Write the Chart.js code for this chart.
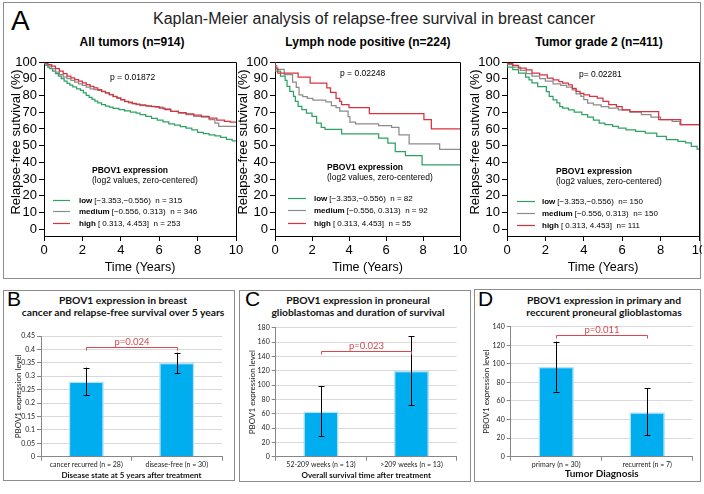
<!DOCTYPE html>
<html><head><meta charset="utf-8">
<script src="https://cdn.jsdelivr.net/npm/chart.js@4.4.0/dist/chart.umd.min.js"></script>
<style>
body{margin:0;width:704px;height:494px;background:#fff;position:relative;overflow:hidden;font-family:"Liberation Sans",Arial,sans-serif;color:#000;}
.box{position:absolute;border:1px solid #8c8c8c;box-sizing:border-box;}
.t{position:absolute;white-space:nowrap;transform:translate(-50%,-50%);line-height:1;}
.lt{position:absolute;line-height:1;}
canvas{position:absolute;}
.bt{font-family:Lato,"Open Sans",sans-serif;font-weight:bold;font-size:10.3px;color:#111;}
</style></head><body>
<div class="box" style="left:3px;top:2px;width:698px;height:277px;"></div>
<div class="box" style="left:3px;top:290px;width:232px;height:191px;"></div>
<div class="box" style="left:239px;top:290px;width:232px;height:192px;"></div>
<div class="box" style="left:474px;top:289px;width:227px;height:193px;"></div>

<div class="lt" style="left:11px;top:7px;font-size:28px;">A</div>
<div class="t" style="left:374px;top:19px;font-size:16px;color:#222;">Kaplan-Meier analysis of relapse-free survival in breast cancer</div>
<div class="t" style="left:132px;top:42px;font-size:12px;font-weight:bold;">All tumors (n=914)</div>
<div class="t" style="left:368px;top:42px;font-size:12px;font-weight:bold;">Lymph node positive (n=224)</div>
<div class="t" style="left:599px;top:42px;font-size:12px;font-weight:bold;">Tumor grade 2 (n=411)</div>

<div class="lt" style="left:7px;top:288px;font-size:21px;">B</div>
<div class="lt" style="left:245px;top:288px;font-size:21px;">C</div>
<div class="lt" style="left:478px;top:288px;font-size:21px;">D</div>
<div class="t bt" style="left:123px;top:300px;">PBOV1 expression in breast</div>
<div class="t bt" style="left:123px;top:312px;">cancer and relapse-free survival over 5 years</div>
<div class="t bt" style="left:358px;top:300px;">PBOV1 expression in proneural</div>
<div class="t bt" style="left:358px;top:312px;">glioblastomas and duration of survival</div>
<div class="t bt" style="left:604px;top:300px;">PBOV1 expression in primary and</div>
<div class="t bt" style="left:604px;top:312px;">reccurent proneural glioblastomas</div>

<canvas id="km1" width="240" height="227" style="left:4px;top:50px;"></canvas>
<canvas id="km2" width="240" height="227" style="left:234px;top:50px;"></canvas>
<canvas id="km3" width="236" height="227" style="left:466px;top:50px;"></canvas>
<canvas id="b1" width="229" height="158" style="left:4px;top:322px;"></canvas>
<canvas id="b2" width="230" height="162" style="left:240px;top:318px;"></canvas>
<canvas id="b3" width="224" height="162" style="left:475px;top:318px;"></canvas>

<script>
// ---------------- DATA ----------------
const kmXTicks = [0, 2, 4, 6, 8, 10];
const kmYTicks = [0, 10, 20, 30, 40, 50, 60, 70, 80, 90, 100];
const groupNames = ['low', 'medium', 'high'];
const groupRanges = ['[\u22123.353,\u22120.556)', '[\u22120.556, 0.313)', '[ 0.313, 4.453]'];

// Panel 1: All tumors (n=914)  [time (years), survival %]
const allLow = [[0,100],[0.1,99],[0.2,98],[0.3,97],[0.45,96],[0.6,94.5],[0.75,93],[0.9,91.5],[1.05,90],[1.2,88.5],[1.35,87.2],[1.5,86.2],[1.7,85.2],[1.9,84],[2.05,83],[2.2,81.5],[2.35,80],[2.5,78.8],[2.65,77.6],[2.8,76.6],[3.0,75.5],[3.2,74.5],[3.4,73.6],[3.6,73],[3.9,72.3],[4.2,71.5],[4.5,70.8],[4.8,70],[5.0,69.4],[5.3,68.5],[5.6,67.5],[5.9,66.3],[6.2,65.3],[6.5,64.2],[6.8,63],[7.1,62.2],[7.4,61.4],[7.7,60.5],[8.0,59.5],[8.3,58],[8.6,57.2],[8.9,56.4],[9.2,55.8],[9.5,55],[9.8,53.8],[10,52.8]];
const allMed = [[0,100],[0.2,99],[0.4,97.5],[0.6,96],[0.8,94],[1.0,92.5],[1.2,91],[1.4,90],[1.6,89],[1.8,88],[2.0,87],[2.2,86],[2.4,85],[2.6,84],[2.8,83.5],[3.0,83],[3.2,82.3],[3.4,81.5],[3.6,80.5],[3.8,79.3],[4.0,78.3],[4.2,77.3],[4.4,76.3],[4.6,75.5],[4.8,75],[5.0,74.5],[5.4,74],[5.8,73.5],[6.2,73],[6.6,72],[7.0,70.5],[7.4,69.5],[7.8,68.5],[8.2,67.5],[8.6,67],[8.9,65.5],[9.1,63.5],[9.3,61.5],[10,61.5]];
const allHigh = [[0,100],[0.2,99.5],[0.4,98.5],[0.6,97.5],[0.8,96],[1.0,94.5],[1.2,93],[1.4,91.5],[1.6,90.5],[1.8,89.5],[2.0,88.5],[2.2,87.5],[2.4,86.5],[2.6,85.5],[2.8,84.5],[3.0,83.5],[3.2,82.5],[3.4,81.5],[3.6,80.5],[3.8,79.5],[4.0,78.5],[4.2,77.5],[4.4,76.5],[4.6,76],[4.8,75.3],[5.0,74.8],[5.3,74.3],[5.6,73.8],[6.0,73.3],[6.3,72.5],[6.6,71.5],[7.0,70.5],[7.4,69.8],[7.8,69],[8.2,68.3],[8.6,67.5],[9.0,66.5],[9.4,65.3],[9.7,64.5],[10,64]];
const allN = [315, 346, 253];

// Panel 2: Lymph node positive (n=224)
const lnLow = [[0,97.5],[0.3,94.5],[0.55,91.5],[0.65,89],[0.8,85.5],[1.0,82.5],[1.1,79.5],[1.25,76.5],[1.45,73.5],[1.7,71.5],[2.0,69.5],[2.25,67.5],[2.5,63.5],[2.7,61],[3.6,59.8],[5.6,57],[6.1,54.5],[6.5,51.5],[7.05,46.5],[7.95,44],[9.85,38.5],[10,38.5]];
const lnMed = [[0,100],[0.1,97.8],[0.5,95.6],[0.95,92.4],[1.15,88],[1.3,84.8],[1.5,80.4],[1.75,79.3],[2.05,78.3],[2.75,77.2],[3.05,76.1],[3.3,74],[3.5,72.8],[3.95,70.7],[4.05,67.4],[4.35,64.1],[5.6,63],[6.3,62],[6.7,60.9],[7.25,56.5],[8.9,51.1],[9.1,47.8],[10,47.8]];
const lnHigh = [[0,100],[0.15,96.4],[1.25,93.3],[1.9,90.9],[2.8,87.3],[3.0,84.5],[3.3,81.8],[3.5,78.2],[3.6,76.4],[4.0,74.5],[5.1,72.7],[8.05,69.1],[8.45,65.5],[9.05,60],[10,60]];
const lnN = [82, 92, 55];

// Panel 3: Tumor grade 2 (n=411)
const g2Low = [[0,98],[0.3,97],[0.6,95.5],[0.97,93.3],[1.15,91],[1.3,89.3],[1.6,87.5],[2.05,85.3],[2.2,82.3],[2.4,79.5],[2.6,77.4],[2.75,75.5],[2.9,73.4],[3.2,72.4],[3.5,71.4],[3.9,70],[4.2,68.5],[4.5,67],[4.8,65.2],[5.1,63.5],[5.5,62.5],[5.8,61.5],[6.2,60.5],[6.7,59.5],[7.2,58.5],[7.8,57.5],[8.3,55.5],[8.9,53.6],[9.3,52.5],[9.6,51.6],[9.9,49.5],[10,48]];
const g2Med = [[0,100],[0.3,98.5],[0.7,97],[1.0,95],[1.3,93],[1.7,91.5],[2.0,90],[2.4,88.5],[2.8,87],[3.1,86],[3.4,85],[3.6,83.3],[3.85,81],[4.0,79.4],[4.2,77.5],[4.5,75.4],[4.9,74.3],[5.3,73.4],[5.8,72.5],[6.4,71.4],[7.0,70],[7.5,68.5],[8.0,67],[8.6,65.5],[9.0,64.5],[9.3,62.5],[10,62.5]];
const g2High = [[0,100],[0.3,99],[0.6,98],[1.0,96.3],[1.3,95.3],[1.7,93.3],[2.1,92.3],[2.4,90.3],[2.7,89.3],[2.9,88.3],[3.2,87.3],[3.4,86.3],[3.6,84.3],[3.8,82.5],[4.0,81.3],[4.3,80.3],[4.7,79.4],[5.0,78.4],[5.3,76.4],[5.7,74.5],[6.0,73.4],[6.4,71.4],[7.9,70.4],[9.05,65.5],[9.65,62.5],[10,62.5]];
const g2N = [150, 150, 111];

// Bar panels
const bCats = ['cancer recurred (n = 28)', 'disease-free (n = 30)'];
const bMeans = [0.28, 0.35];
const bErrLow = [0.23, 0.312];
const bErrHigh = [0.332, 0.388];
const bYTicks = [0, 0.05, 0.1, 0.15, 0.2, 0.25, 0.3, 0.35, 0.4, 0.45];

const cCats = ['52-209 weeks (n = 13)', '>209 weeks (n = 13)'];
const cMeans = [63, 120];
const cErrLow = [29, 72];
const cErrHigh = [98, 168];
const cYTicks = [0, 20, 40, 60, 80, 100, 120, 140, 160, 180];

const dCats = ['primary (n = 30)', 'recurrent (n = 7)'];
const dMeans = [97, 48];
const dErrLow = [70, 23];
const dErrHigh = [124, 74];
const dYTicks = [0, 20, 40, 60, 80, 100, 120, 140];

// ---------------- STYLE / PLUGINS ----------------
const FONT = '"Liberation Sans", Arial, sans-serif';
const BFONT = 'Lato, "Open Sans", sans-serif';
Chart.defaults.font.family = FONT;
Chart.defaults.color = '#000';
Chart.defaults.animation = false;
const COLORS = { low: '#2ea265', medium: '#8c8c8c', high: '#d9323e' };

const framePlugin = {
  id: 'frame',
  afterDatasetsDraw(chart, args, o) {
    if (!o || !o.on) return;
    const { ctx, chartArea: a } = chart;
    ctx.save();
    ctx.strokeStyle = '#000'; ctx.lineWidth = 1;
    ctx.beginPath();
    ctx.moveTo(Math.round(a.left) + 0.5, Math.round(a.top) + 0.5);
    ctx.lineTo(Math.round(a.right) + 0.5, Math.round(a.top) + 0.5);
    ctx.lineTo(Math.round(a.right) + 0.5, Math.round(a.bottom) + 0.5);
    ctx.stroke();
    ctx.restore();
  }
};

const kmLegendPlugin = {
  id: 'kmLegend',
  afterDraw(chart, args, o) {
    if (!o || !o.rows) return;
    const { ctx, chartArea: a } = chart;
    ctx.save();
    ctx.textBaseline = 'middle';
    ctx.textAlign = 'left';
    ctx.fillStyle = '#000';
    ctx.font = 'bold 8.5px ' + FONT;
    ctx.fillText(o.header, a.left + o.hx, a.top + o.hy);
    ctx.font = '8.5px ' + FONT;
    ctx.fillText(o.sub, a.left + o.hx, a.top + o.hy + 10);
    o.rows.forEach((r, i) => {
      const y = Math.round(a.top + o.ry + i * o.rs) + 0.5;
      ctx.strokeStyle = r.color; ctx.lineWidth = 1.2;
      ctx.beginPath(); ctx.moveTo(a.left + o.lx0, y); ctx.lineTo(a.left + o.lx1, y); ctx.stroke();
      ctx.font = 'bold 8px ' + FONT;
      ctx.fillText(r.bold, a.left + o.tx, y);
      const w = ctx.measureText(r.bold).width;
      ctx.font = '8px ' + FONT;
      ctx.fillText(r.rest, a.left + o.tx + w + 2, y);
    });
    ctx.font = '8.5px ' + FONT;
    ctx.fillText(o.p, a.left + o.px, a.top + o.py);
    // y-axis title
    ctx.font = '13px ' + FONT;
    ctx.textAlign = 'center';
    ctx.translate(o.ytx, a.top + o.yty);
    ctx.rotate(-Math.PI / 2);
    ctx.fillText(o.ytitle, 0, 0);
    ctx.restore();
  }
};

const errorBarPlugin = {
  id: 'errBars',
  afterDatasetsDraw(chart, args, o) {
    if (!o || !o.low) return;
    const { ctx } = chart;
    const ys = chart.scales.y;
    const meta = chart.getDatasetMeta(0);
    ctx.save();
    ctx.strokeStyle = '#000'; ctx.lineWidth = 1;
    meta.data.forEach((bar, i) => {
      const x = Math.round(bar.x) + 0.5;
      const y1 = ys.getPixelForValue(o.low[i]);
      const y2 = ys.getPixelForValue(o.high[i]);
      ctx.beginPath();
      ctx.moveTo(x, y1); ctx.lineTo(x, y2);
      ctx.moveTo(x - 3, Math.round(y1) + 0.5); ctx.lineTo(x + 3, Math.round(y1) + 0.5);
      ctx.moveTo(x - 3, Math.round(y2) + 0.5); ctx.lineTo(x + 3, Math.round(y2) + 0.5);
      ctx.stroke();
    });
    ctx.restore();
  }
};

const bracketPlugin = {
  id: 'pBracket',
  afterDatasetsDraw(chart, args, o) {
    if (!o || o.value === undefined) return;
    const { ctx } = chart;
    const ys = chart.scales.y;
    const meta = chart.getDatasetMeta(0);
    const x1 = Math.round(meta.data[0].x) + 0.5, x2 = Math.round(meta.data[1].x) + 0.5;
    const y = Math.round(ys.getPixelForValue(o.value)) + 0.5;
    ctx.save();
    ctx.strokeStyle = '#d9474f'; ctx.lineWidth = 1;
    ctx.beginPath();
    ctx.moveTo(x1, y + o.drop); ctx.lineTo(x1, y); ctx.lineTo(x2, y); ctx.lineTo(x2, y + o.drop);
    ctx.stroke();
    ctx.fillStyle = '#d9474f';
    ctx.font = '9.5px ' + BFONT;
    ctx.textAlign = 'center'; ctx.textBaseline = 'bottom';
    ctx.fillText(o.text, (x1 + x2) / 2, y - 0.5);
    ctx.restore();
  }
};

Chart.register(framePlugin, kmLegendPlugin, errorBarPlugin, bracketPlugin);

function pts(arr) { return arr.map(p => ({ x: p[0], y: p[1] })); }

function kmChart(id, low, med, high, nArr, cfg) {
  const sets = [[high, 'high'], [med, 'medium'], [low, 'low']];
  const eq = cfg.eq;
  return new Chart(document.getElementById(id), {
    type: 'line',
    data: {
      datasets: sets.map(([d, g]) => ({
        label: g, data: pts(d), borderColor: COLORS[g], borderWidth: 1.25,
        pointRadius: 0, stepped: 'after', fill: false, tension: 0
      }))
    },
    options: {
      responsive: false, animation: false,
      layout: { autoPadding: false, padding: { left: 0, top: 12, right: cfg.pr, bottom: 0 } },
      plugins: {
        legend: { display: false }, tooltip: { enabled: false },
        frame: { on: true },
        kmLegend: {
          header: 'PBOV1 expression', sub: '(log2 values, zero-centered)',
          rows: groupNames.map((g, i) => ({ color: COLORS[g], bold: g, rest: groupRanges[i] + '  ' + eq + nArr[i] })),
          hx: cfg.hx, hy: cfg.hy, ry: cfg.ry, rs: cfg.rs, lx0: cfg.lx0, lx1: cfg.lx1, tx: cfg.tx,
          p: cfg.p, px: cfg.px, py: cfg.py,
          ytitle: 'Relapse-free sutvival (%)', ytx: cfg.ytx, yty: 80
        }
      },
      scales: {
        x: {
          type: 'linear', min: 0, max: 10,
          afterBuildTicks(s) { s.ticks = kmXTicks.map(v => ({ value: v })); },
          afterFit(s) { s.height = 41; s.paddingLeft = 0; s.paddingRight = 0; },
          grid: { display: true, drawOnChartArea: false, tickLength: 5, color: '#000' },
          border: { display: true, color: '#000', width: 1 },
          ticks: { font: { size: 13 }, padding: 2, maxRotation: 0, autoSkip: false, color: '#000' },
          title: { display: true, text: 'Time (Years)', font: { size: 12.5 }, padding: { top: 0, bottom: 2 }, color: '#000' }
        },
        y: {
          type: 'linear', min: -4, max: 100,
          afterBuildTicks(s) { s.ticks = kmYTicks.map(v => ({ value: v })); },
          afterFit(s) { s.width = cfg.yw; s.paddingTop = 0; s.paddingBottom = 0; },
          grid: { display: true, drawOnChartArea: false, tickLength: 5, color: '#000' },
          border: { display: true, color: '#000', width: 1 },
          ticks: { font: { size: 13 }, padding: 2, autoSkip: false, color: '#000' },
          title: { display: false }
        }
      }
    }
  });
}

kmChart('km1', allLow, allMed, allHigh, allN,
  { yw: 40, pr: 8, ytx: 12, eq: 'n = ', hx: 48, hy: 109, ry: 138, rs: 11.4, lx0: 9, lx1: 26, tx: 35, p: 'p = 0.01872', px: 66, py: 16 });
kmChart('km2', lnLow, lnMed, lnHigh, lnN,
  { yw: 41, pr: 14, ytx: 9, eq: 'n = ', hx: 52, hy: 106, ry: 136, rs: 12.4, lx0: 13, lx1: 31, tx: 39, p: 'p = 0.02248', px: 65, py: 11.5 });
kmChart('km3', g2Low, g2Med, g2High, g2N,
  { yw: 41, pr: 3, ytx: 9, eq: 'n= ', hx: 49, hy: 110, ry: 139, rs: 12, lx0: 10, lx1: 28, tx: 35, p: 'p= 0.02281', px: 72, py: 13 });

function barChart(id, cats, means, lo, hi, yTicks, yMax, cfg) {
  return new Chart(document.getElementById(id), {
    type: 'bar',
    data: {
      labels: cats,
      datasets: [{
        data: means, backgroundColor: '#00aeef', borderColor: '#b8e2f6', borderWidth: 1.5,
        categoryPercentage: 1, barPercentage: 0.39
      }]
    },
    options: {
      responsive: false, animation: false,
      layout: { autoPadding: false, padding: { left: 0, top: cfg.pt, right: cfg.pr, bottom: 0 } },
      plugins: {
        legend: { display: false }, tooltip: { enabled: false },
        errBars: { low: lo, high: hi },
        pBracket: { value: cfg.bv, drop: cfg.drop, text: cfg.p }
      },
      scales: {
        x: {
          afterFit(s) { s.height = cfg.xh; s.paddingLeft = 0; s.paddingRight = 0; },
          grid: { display: true, drawOnChartArea: false, offset: true, tickLength: 4, color: '#868686' },
          border: { display: true, color: '#868686' },
          ticks: { font: { family: BFONT, size: 7 }, padding: 0, color: '#222', maxRotation: 0, autoSkip: false },
          title: { display: true, text: cfg.xt, font: { family: BFONT, size: cfg.xts, weight: 'bold' }, padding: { top: 0, bottom: 0 }, color: '#111' }
        },
        y: {
          min: 0, max: yMax,
          afterBuildTicks(s) { s.ticks = yTicks.map(v => ({ value: v })); },
          afterFit(s) { s.width = cfg.yw; s.paddingTop = 0; s.paddingBottom = 0; },
          grid: { display: true, color: '#d9d9d9', tickColor: '#868686', tickLength: 4 },
          border: { display: true, color: '#868686' },
          ticks: { font: { family: BFONT, size: 7 }, padding: 2, color: '#222', autoSkip: false, callback: v => String(v) },
          title: { display: true, text: 'PBOV1 expression level', font: { family: BFONT, size: 8 }, padding: { top: cfg.tp, bottom: 0 }, color: '#222' }
        }
      }
    }
  });
}

barChart('b1', bCats, bMeans, bErrLow, bErrHigh, bYTicks, 0.45,
  { pt: 14, pr: 11, yw: 37, xh: 23.3, tp: 9.2, bv: 0.41, drop: 3, p: 'p=0.024', xt: 'Disease state at 5 years after treatment', xts: 8 });
barChart('b2', cCats, cMeans, cErrLow, cErrHigh, cYTicks, 180,
  { pt: 9.7, pr: 13.3, yw: 35.7, xh: 23.3, tp: 7.5, bv: 147, drop: 3, p: 'p=0.023', xt: 'Overall survival time after treatment', xts: 8 });
barChart('b3', dCats, dMeans, dErrLow, dErrHigh, dYTicks, 140,
  { pt: 8.7, pr: 6.3, yw: 35.7, xh: 23.3, tp: 6.2, bv: 131, drop: 3, p: 'p=0.011', xt: 'Tumor Diagnosis', xts: 10 });
</script>
</body></html>
